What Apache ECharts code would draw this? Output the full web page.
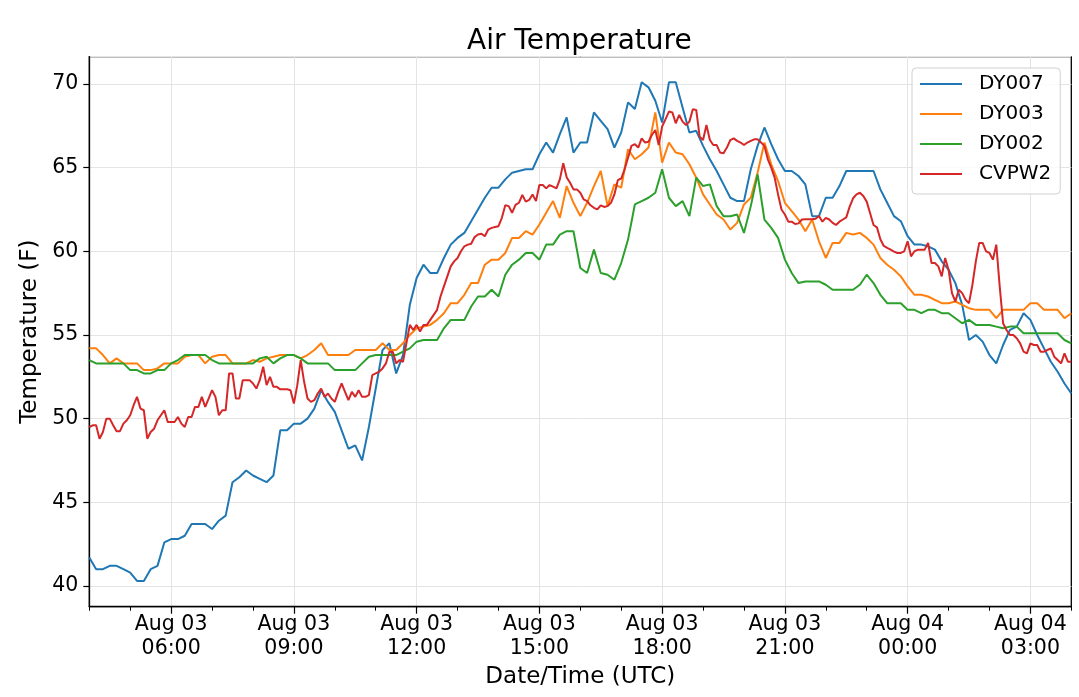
<!DOCTYPE html>
<html>
<head>
<meta charset="utf-8">
<script src="https://cdn.jsdelivr.net/npm/echarts@6/dist/echarts.min.js"></script>
<style>
html,body{margin:0;padding:0;background:#fff;}
#chart{width:1079px;height:697px;}
</style>
</head>
<body>
<div id="chart"></div>
<script>
// ---- data ----
const seriesNames = ['DY007', 'DY003', 'DY002', 'CVPW2'];
const seriesColors = ['#1f77b4', '#ff7f0e', '#2ca02c', '#d62728'];
const majorTickLabels = ['Aug 03\n06:00', 'Aug 03\n09:00', 'Aug 03\n12:00', 'Aug 03\n15:00',
                         'Aug 03\n18:00', 'Aug 03\n21:00', 'Aug 04\n00:00', 'Aug 04\n03:00'];
const startMinute = 4 * 60;   // Aug 03 04:00 UTC
const baseStepMinutes = 5;    // CVPW2 sampling
const dyStepMinutes = 10;     // DY stations sampling

const dy007 = [41.7,41.0,41.0,41.2,41.2,41.0,40.8,40.3,40.3,41.0,
41.2,42.6,42.8,42.8,43.0,43.7,43.7,43.7,43.4,43.9,
44.2,46.2,46.5,46.9,46.6,46.4,46.2,46.6,49.3,49.3,
49.7,49.7,50.0,50.6,51.7,51.0,50.4,49.3,48.2,48.4,
47.5,49.5,51.8,54.1,54.5,52.7,53.8,56.8,58.4,59.2,
58.7,58.7,59.6,60.4,60.8,61.1,61.8,62.5,63.2,63.8,
63.8,64.3,64.7,64.8,64.9,64.9,65.8,66.5,65.9,67.0,
68.0,65.9,66.5,66.5,68.3,67.8,67.3,66.2,67.1,68.9,
68.5,70.1,69.8,69.0,67.7,70.1,70.1,68.6,67.1,67.2,
66.3,65.5,64.8,64.0,63.2,63.0,63.0,64.9,66.3,67.4,
66.4,65.5,64.8,64.8,64.5,64.0,62.1,62.1,63.2,63.2,
63.9,64.8,64.8,64.8,64.8,64.8,63.7,62.9,62.1,61.8,
60.9,60.4,60.4,60.3,60.1,59.4,58.9,58.1,56.8,54.7,
55.0,54.6,53.8,53.3,54.4,55.3,55.5,56.3,55.9,55.0,
54.2,53.4,52.8,52.1,51.5];

const dy003 = [54.2,54.2,53.8,53.3,53.6,53.3,53.3,53.3,52.9,52.9,
53.0,53.3,53.3,53.3,53.7,53.8,53.8,53.3,53.7,53.8,
53.8,53.3,53.3,53.3,53.5,53.4,53.6,53.7,53.8,53.8,
53.8,53.6,53.8,54.1,54.5,53.8,53.8,53.8,53.8,54.1,
54.1,54.1,54.1,54.5,54.1,54.1,54.5,55.0,55.4,55.5,
55.6,55.9,56.3,56.9,56.9,57.4,58.1,58.1,59.2,59.5,
59.5,59.9,60.8,60.8,61.2,61.0,61.6,62.3,63.0,62.0,
63.9,62.9,62.1,62.9,63.9,64.8,62.7,64.0,63.8,66.1,
65.5,65.8,66.2,68.3,65.3,66.5,65.9,65.8,65.2,64.4,
63.4,62.8,62.2,61.9,61.3,61.7,62.8,63.2,64.7,66.5,
65.2,64.2,62.9,62.4,61.9,61.2,61.9,60.6,59.6,60.5,
60.5,61.1,61.0,61.1,60.8,60.4,59.6,59.2,58.9,58.5,
57.9,57.4,57.4,57.3,57.1,56.9,56.9,57.0,56.8,56.6,
56.5,56.5,56.5,56.0,56.5,56.5,56.5,56.5,56.9,56.9,
56.5,56.5,56.5,56.0,56.3];

const dy002 = [53.5,53.3,53.3,53.3,53.3,53.3,52.9,52.9,52.7,52.7,
52.9,52.9,53.3,53.5,53.8,53.8,53.8,53.8,53.5,53.3,
53.3,53.3,53.3,53.3,53.3,53.6,53.7,53.3,53.6,53.8,
53.8,53.6,53.3,53.3,53.3,53.3,52.9,52.9,52.9,52.9,
53.3,53.7,53.8,53.8,53.8,53.8,54.0,54.2,54.6,54.7,
54.7,54.7,55.4,55.9,55.9,55.9,56.7,57.3,57.3,57.7,
57.3,58.6,59.2,59.5,59.9,59.9,59.5,60.4,60.4,61.0,
61.2,61.2,59.0,58.7,60.1,58.7,58.6,58.3,59.3,60.7,
62.8,63.0,63.2,63.5,64.9,63.2,62.7,63.0,62.1,64.4,
63.9,64.0,62.7,62.1,62.1,62.2,61.1,62.7,64.6,61.9,
61.4,60.8,59.5,58.7,58.1,58.2,58.2,58.2,58.0,57.7,
57.7,57.7,57.7,58.0,58.6,58.1,57.4,56.9,56.9,56.9,
56.5,56.5,56.3,56.5,56.5,56.3,56.3,56.0,55.7,55.9,
55.6,55.6,55.6,55.5,55.4,55.5,55.5,55.1,55.1,55.1,
55.1,55.1,55.1,54.7,54.5];

const cvpw2 = [49.5,49.6,49.6,48.8,49.2,50.0,50.0,49.6,49.25,49.25,
49.7,49.9,50.2,50.8,51.3,50.6,50.5,48.8,49.2,49.4,
49.9,50.2,50.5,49.8,49.8,49.8,50.1,49.7,49.5,50.1,
50.1,50.7,50.7,51.3,50.7,51.2,51.7,51.3,50.2,50.5,
50.5,52.7,52.7,51.2,51.2,52.3,52.3,52.3,52.1,51.8,
52.3,53.1,52.0,52.5,51.9,51.9,51.75,51.75,51.75,51.7,
50.9,52.0,53.5,52.2,51.2,51.0,51.1,51.5,51.8,51.3,
51.5,51.2,51.0,51.6,52.1,51.6,51.1,51.6,51.3,51.7,
51.3,51.3,51.4,52.6,52.7,52.8,53.0,53.3,54.0,54.0,
53.3,53.5,53.4,54.5,55.6,55.3,55.6,55.2,55.6,55.6,
55.9,56.2,56.5,57.3,57.9,58.5,59.1,59.4,59.6,60.0,
60.3,60.4,60.45,60.85,61.0,61.05,60.9,61.3,61.4,61.45,
61.5,62.0,62.75,62.7,62.3,62.77,62.9,63.37,62.97,63.07,
63.4,63.0,63.96,63.96,63.76,63.96,63.86,63.76,64.3,65.26,
64.42,64.1,63.7,63.7,63.5,63.1,63.0,62.75,62.6,62.5,
62.75,62.65,62.7,62.9,63.4,64.25,64.35,64.9,65.6,66.3,
66.4,66.2,66.75,66.5,66.55,66.95,67.25,66.35,67.45,67.9,
68.35,68.3,67.65,68.15,67.75,67.55,67.75,68.49,68.45,66.85,
66.65,67.55,66.65,66.35,66.35,65.9,65.86,66.2,66.65,66.75,
66.6,66.5,66.35,66.5,66.6,66.69,66.69,66.5,66.3,65.5,
65.0,64.4,63.4,62.5,62.2,61.77,61.77,61.63,61.67,61.9,
61.91,61.91,61.91,61.95,62.11,61.77,62.0,61.9,61.7,61.57,
61.77,61.9,62.03,62.67,63.17,63.4,63.5,63.3,62.97,62.27,
61.57,61.43,60.72,60.32,60.2,60.1,59.98,59.9,59.9,60.0,
60.6,59.7,60.0,60.1,60.1,60.1,60.5,59.3,59.3,59.1,
58.5,59.6,58.9,57.5,57.0,57.7,57.5,57.1,56.9,58.0,
59.4,60.5,60.5,60.0,59.9,59.5,60.4,57.9,55.7,55.3,
55.0,55.0,54.8,54.5,54.0,53.9,54.5,54.4,54.4,54.0,
54.0,54.1,54.2,53.7,53.5,53.3,53.9,53.4,53.4];

// ---- build category table (5-minute time steps) ----
const categories = [];
for (let k = 0; k < cvpw2.length; k++) {
  const t = startMinute + k * baseStepMinutes;
  const day = 3 + Math.floor(t / 1440);
  const h = Math.floor((t % 1440) / 60);
  const m = t % 60;
  categories.push('Aug 0' + day + ' ' + String(h).padStart(2, '0') + ':' + String(m).padStart(2, '0'));
}
const ratio = dyStepMinutes / baseStepMinutes;
const stepsPerHour = 60 / baseStepMinutes;
const firstMajor = 2 * stepsPerHour;      // 06:00
const majorEvery = 3 * stepsPerHour;      // every 3 hours
const isMajor = (idx) => idx >= firstMajor && (idx - firstMajor) % majorEvery === 0;
const isMinor = (idx) => idx % stepsPerHour === 0;

const toPairs = (arr) => arr.map((v, i) => [categories[i * ratio], v]);
const seriesData = [toPairs(dy007), toPairs(dy003), toPairs(dy002), cvpw2];

const FONT = 'DejaVu Sans';
const chart = echarts.init(document.getElementById('chart'), null, {renderer: 'canvas'});
chart.setOption({
  animation: false,
  backgroundColor: '#ffffff',
  textStyle: {fontFamily: FONT, color: '#000'},
  title: {
    text: 'Air Temperature', left: 467, top: 28, padding: 0,
    textStyle: {fontFamily: FONT, fontSize: 28, fontWeight: 'normal', color: '#000'}
  },
  grid: {left: 89.3, right: 7.7, top: 56.7, bottom: 90.3, show: true,
         borderColor: '#000', borderWidth: 1.3, backgroundColor: 'transparent'},
  legend: {
    orient: 'vertical', left: 912, top: 68,
    padding: [6, 9, 10, 8], itemGap: 10, itemWidth: 42, itemHeight: 2,
    icon: 'rect',
    borderColor: '#d0d0d0', borderWidth: 1, borderRadius: 4,
    backgroundColor: 'rgba(255,255,255,0.8)',
    textStyle: {fontFamily: FONT, fontSize: 20, lineHeight: 20, color: '#000', padding: [0, 0, 0, 12]},
    data: seriesNames
  },
  xAxis: [{
    type: 'category', data: categories, boundaryGap: false, position: 'bottom',
    min: 0, max: categories.length - 1,
    axisLine: {show: true, lineStyle: {color: '#000', width: 1.3}},
    axisTick: {show: true, interval: (i) => isMajor(i), length: 7, lineStyle: {color: '#000', width: 1.2}},
    axisLabel: {
      interval: (i) => isMajor(i),
      formatter: (val, i) => majorTickLabels[(i - firstMajor) / majorEvery],
      fontFamily: FONT, fontSize: 20.5, lineHeight: 24, color: '#000', margin: 6
    },
    splitLine: {show: true, interval: (i) => isMajor(i), lineStyle: {color: '#e4e4e4', width: 1}},
    name: 'Date/Time (UTC)', nameLocation: 'middle', nameGap: 56,
    nameTextStyle: {fontFamily: FONT, fontSize: 23, color: '#000'}
  }, {
    type: 'category', data: categories, boundaryGap: false, position: 'bottom',
    min: 0, max: categories.length - 1,
    axisLine: {show: false},
    axisTick: {show: true, interval: (i) => isMinor(i) && !isMajor(i), length: 4, lineStyle: {color: '#000', width: 1}},
    axisLabel: {show: false},
    splitLine: {show: false}
  }],
  yAxis: {
    type: 'value', min: 38.76, max: 71.63, splitNumber: 6,
    axisLine: {show: true, lineStyle: {color: '#000', width: 1.3}},
    axisTick: {show: true, length: 6, lineStyle: {color: '#000', width: 1.2}},
    axisLabel: {fontFamily: FONT, fontSize: 20.5, color: '#000', margin: 11, showMinLabel: false, showMaxLabel: false},
    splitLine: {show: true, lineStyle: {color: '#e4e4e4', width: 1}},
    name: 'Temperature (F)', nameLocation: 'middle', nameGap: 37,
    nameTextStyle: {fontFamily: FONT, fontSize: 23, color: '#000'}
  },
  series: seriesNames.map((name, k) => ({
    name: name, type: 'line', xAxisIndex: 0, yAxisIndex: 0,
    data: seriesData[k], symbol: 'none', showSymbol: false,
    color: seriesColors[k],
    lineStyle: {color: seriesColors[k], width: 2},
    emphasis: {disabled: true}, z: 2 + k
  }))
});
</script>
</body>
</html>
